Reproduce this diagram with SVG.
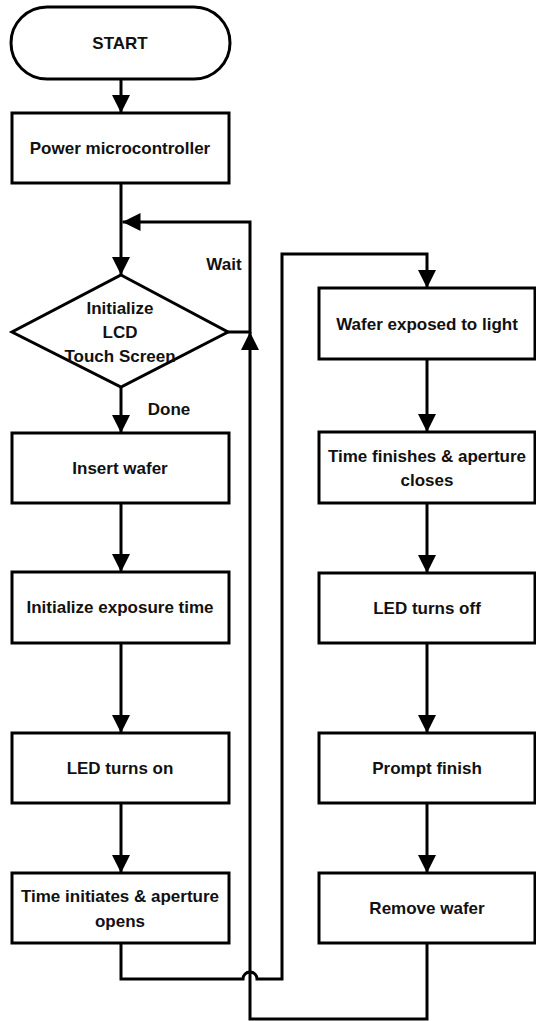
<svg xmlns="http://www.w3.org/2000/svg" width="536" height="1021" viewBox="0 0 536 1021">
<defs>
<style>
.box{fill:#fff;stroke:#000;stroke-width:3}
.t{font-family:"Liberation Sans",Arial,sans-serif;font-weight:bold;font-size:17px;fill:#111;text-anchor:middle}
.c{fill:none;stroke:#000;stroke-width:3}
</style>
<marker id="ah" markerUnits="userSpaceOnUse" markerWidth="18" markerHeight="18" refX="18" refY="9" orient="auto">
<path d="M0,0 L18,9 L0,18 z" fill="#000"/>
</marker>
</defs>
<rect width="536" height="1021" fill="#fff"/>
<g id="connectors">
<path class="c" d="M121,79 V113" marker-end="url(#ah)"/>
<path class="c" d="M121,183 V275" marker-end="url(#ah)"/>
<path class="c" d="M228,332 H250 V222 H122.5" marker-end="url(#ah)"/>
<path class="c" d="M121,387 V433" marker-end="url(#ah)"/>
<path class="c" d="M121,503 V572" marker-end="url(#ah)"/>
<path class="c" d="M121,643 V733" marker-end="url(#ah)"/>
<path class="c" d="M121,803 V873" marker-end="url(#ah)"/>
<path class="c" d="M121,943 V979 H243 A7,7 0 0 1 257,979 H282 V254 H427 V288" marker-end="url(#ah)"/>
<path class="c" d="M427,359 V432" marker-end="url(#ah)"/>
<path class="c" d="M427,503 V573" marker-end="url(#ah)"/>
<path class="c" d="M427,643 V733" marker-end="url(#ah)"/>
<path class="c" d="M427,803 V873" marker-end="url(#ah)"/>
<path class="c" d="M427,943 V1019 H250 V332" marker-end="url(#ah)"/>
<text class="t" x="224" y="270">Wait</text>
<text class="t" x="169" y="415">Done</text>
</g>
<g id="start">
<rect class="box" x="11" y="7" width="219" height="72" rx="36" ry="36"/>
<text class="t" x="120" y="49">START</text>
</g>
<g id="power">
<rect class="box" x="12" y="113" width="217" height="70"/>
<text class="t" x="120" y="154">Power microcontroller</text>
</g>
<g id="init-lcd">
<polygon class="box" points="121,275 228,332 121,387 12,332"/>
<text class="t" x="120" y="314">Initialize</text>
<text class="t" x="120" y="338">LCD</text>
<text class="t" x="120" y="362">Touch Screen</text>
</g>
<g id="insert">
<rect class="box" x="12" y="433" width="217" height="70"/>
<text class="t" x="120" y="474">Insert wafer</text>
</g>
<g id="init-exp">
<rect class="box" x="12" y="572" width="217" height="71"/>
<text class="t" x="120" y="613">Initialize exposure time</text>
</g>
<g id="led-on">
<rect class="box" x="12" y="733" width="217" height="70"/>
<text class="t" x="120" y="774">LED turns on</text>
</g>
<g id="time-init">
<rect class="box" x="12" y="873" width="217" height="70"/>
<text class="t" x="120" y="902">Time initiates &amp; aperture</text>
<text class="t" x="120" y="927">opens</text>
</g>
<g id="exposed">
<rect class="box" x="319" y="288" width="216" height="71"/>
<text class="t" x="427" y="330">Wafer exposed to light</text>
</g>
<g id="time-fin">
<rect class="box" x="319" y="432" width="216" height="71"/>
<text class="t" x="427" y="462">Time finishes &amp; aperture</text>
<text class="t" x="427" y="486">closes</text>
</g>
<g id="led-off">
<rect class="box" x="319" y="573" width="216" height="70"/>
<text class="t" x="427" y="614">LED turns off</text>
</g>
<g id="prompt">
<rect class="box" x="319" y="733" width="216" height="70"/>
<text class="t" x="427" y="774">Prompt finish</text>
</g>
<g id="remove">
<rect class="box" x="319" y="873" width="216" height="70"/>
<text class="t" x="427" y="914">Remove wafer</text>
</g>
</svg>
